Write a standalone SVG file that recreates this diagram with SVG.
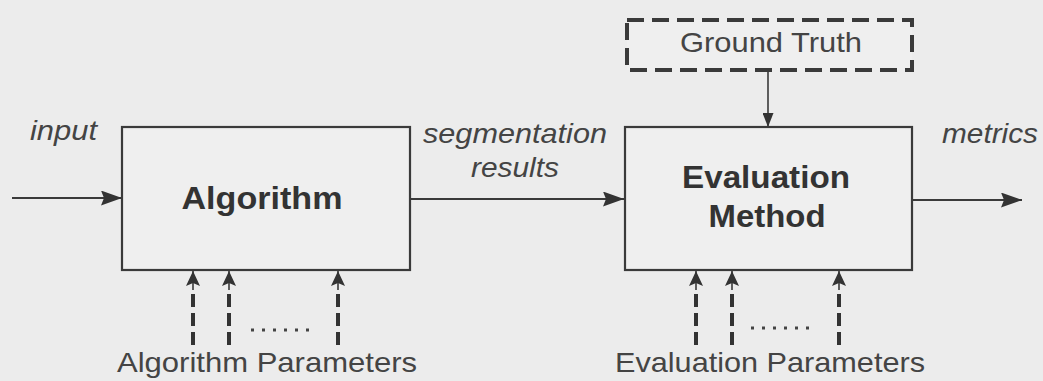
<svg xmlns="http://www.w3.org/2000/svg" width="1043" height="381" viewBox="0 0 1043 381">
<defs>
<style>
.box{fill:#efefef;stroke:#3a3a3a;stroke-width:2.2}
.dbox{fill:#efefef;stroke:#3a3a3a;stroke-width:4;stroke-dasharray:17 8}
.line{fill:none;stroke:#3a3a3a;stroke-width:2.2}
.thin{fill:none;stroke:#3a3a3a;stroke-width:1.6}
.dash{fill:none;stroke:#333;stroke-width:4;stroke-dasharray:13 6}
.dots{fill:none;stroke:#444;stroke-width:3;stroke-dasharray:3 8}
text{font-family:"Liberation Sans",Arial,sans-serif;fill:#3c3c3c}
.bold{font-weight:bold;font-size:32px;fill:#333}
.it{font-style:italic;font-size:28px;fill:#444}
.reg{font-size:28px;fill:#444}
</style>
<marker id="ah" viewBox="0 0 21 15" refX="21" refY="7.5" markerWidth="21" markerHeight="15" markerUnits="userSpaceOnUse" orient="auto">
<path d="M0,0 L21,7.5 L0,15 L3,7.5 Z" fill="#333"/>
</marker>
<marker id="ahs" viewBox="0 0 14 11" refX="14" refY="5.5" markerWidth="14" markerHeight="11" markerUnits="userSpaceOnUse" orient="auto">
<path d="M0,0 L14,5.5 L0,11 Z" fill="#333"/>
</marker>
<marker id="ahu" viewBox="0 0 15 14" refX="15" refY="7" markerWidth="15" markerHeight="14" markerUnits="userSpaceOnUse" orient="auto">
<path d="M0,0 L15,7 L0,14 L3,7 Z" fill="#333"/>
</marker>
</defs>
<rect width="1043" height="381" fill="#ececec"/>

<g id="connectors">
<line class="line" x1="12" y1="198" x2="122" y2="198" marker-end="url(#ah)"/>
<line class="line" x1="410" y1="199" x2="624" y2="199" marker-end="url(#ah)"/>
<line class="line" x1="912" y1="200" x2="1022" y2="200" marker-end="url(#ah)"/>
<line class="thin" x1="768" y1="71" x2="768" y2="127" marker-end="url(#ahs)"/>
<g id="alg-params-arrows">
<line class="thin" x1="193" y1="290" x2="193" y2="271" marker-end="url(#ahu)"/>
<line class="thin" x1="229" y1="290" x2="229" y2="271" marker-end="url(#ahu)"/>
<line class="thin" x1="338" y1="290" x2="338" y2="271" marker-end="url(#ahu)"/>
<line class="dash" x1="193" y1="294" x2="193" y2="346"/>
<line class="dash" x1="229" y1="294" x2="229" y2="346"/>
<line class="dash" x1="338" y1="294" x2="338" y2="346"/>
<line class="dots" x1="251" y1="330" x2="309" y2="330"/>
</g>
<g id="eval-params-arrows">
<line class="thin" x1="696" y1="290" x2="696" y2="271" marker-end="url(#ahu)"/>
<line class="thin" x1="732" y1="290" x2="732" y2="271" marker-end="url(#ahu)"/>
<line class="thin" x1="839" y1="290" x2="839" y2="271" marker-end="url(#ahu)"/>
<line class="dash" x1="696" y1="294" x2="696" y2="346"/>
<line class="dash" x1="732" y1="294" x2="732" y2="346"/>
<line class="dash" x1="839" y1="294" x2="839" y2="346"/>
<line class="dots" x1="751" y1="328" x2="809" y2="328"/>
</g>
</g>

<g id="algorithm">
<rect class="box" x="122" y="127" width="288" height="143"/>
<text class="bold" x="262" y="209" text-anchor="middle" textLength="161" lengthAdjust="spacingAndGlyphs">Algorithm</text>
</g>

<g id="evaluation">
<rect class="box" x="625" y="127" width="287" height="143"/>
<text class="bold" x="766" y="188" text-anchor="middle" textLength="168" lengthAdjust="spacingAndGlyphs">Evaluation</text>
<text class="bold" x="767" y="227" text-anchor="middle" textLength="117" lengthAdjust="spacingAndGlyphs">Method</text>
</g>

<g id="ground-truth">
<rect class="dbox" x="627" y="20" width="285" height="50"/>
<text class="reg" x="771" y="52" text-anchor="middle" textLength="182" lengthAdjust="spacingAndGlyphs">Ground Truth</text>
</g>

<g id="labels">
<text class="it" x="30" y="140" textLength="67" lengthAdjust="spacingAndGlyphs">input</text>
<text class="it" x="515" y="143" text-anchor="middle" textLength="184" lengthAdjust="spacingAndGlyphs">segmentation</text>
<text class="it" x="515" y="177" text-anchor="middle" textLength="88" lengthAdjust="spacingAndGlyphs">results</text>
<text class="it" x="942" y="143" textLength="96" lengthAdjust="spacingAndGlyphs">metrics</text>
<text class="reg" x="117" y="372" textLength="300" lengthAdjust="spacingAndGlyphs">Algorithm Parameters</text>
<text class="reg" x="615" y="372" textLength="310" lengthAdjust="spacingAndGlyphs">Evaluation Parameters</text>
</g>
</svg>
